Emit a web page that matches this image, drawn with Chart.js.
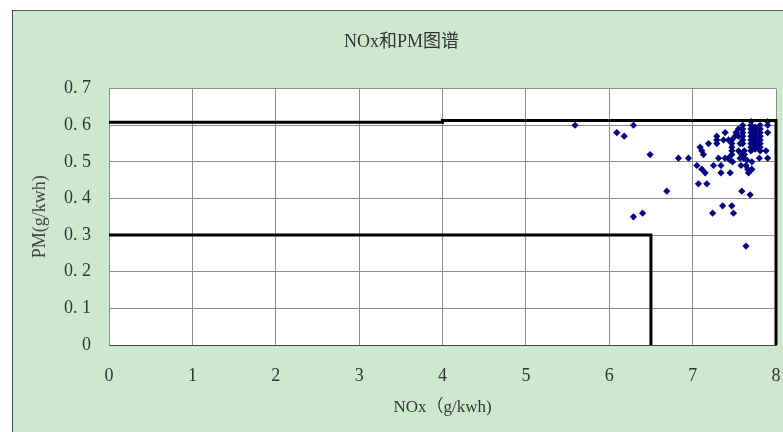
<!DOCTYPE html>
<html lang="zh">
<head>
    <meta charset="UTF-8">
    <title>NOx和PM图谱</title>
    <script src="https://cdn.jsdelivr.net/npm/chart.js"></script>
    <style>
        body {
            margin: 0;
            background: #fff;
            width: 783px;
            height: 432px;
            overflow: hidden;
            position: relative;
        }

        /* green chart sheet, its right/bottom edge falls outside the window */
        .sheet {
            position: absolute;
            left: 12px;
            top: 10px;
            width: 770px;
            height: 421px;
            border-left: 1px solid #555;
            border-top: 1px solid #555;
            background: #cde8cf;
        }

        canvas {
            display: block;
        }
    </style>
</head>
<body>
    <div class="sheet">
        <canvas id="mapChart" width="770" height="421"></canvas>
    </div>

    <script>
        // measured points
        const noxValues = [
            5.59, 6.09, 6.18, 6.29, 6.49, 6.83, 6.95, 6.69, 6.29, 6.40,
            7.24, 7.36, 7.47, 7.49, 7.64, 7.59, 7.69, 7.07, 7.17,
            7.05, 7.11, 7.15, 7.25, 7.34, 7.34, 7.45, 7.58, 7.66, 7.67, 7.69, 7.71, 7.64,
            7.31, 7.39, 7.43, 7.45, 7.48, 7.57, 7.61, 7.65, 7.71, 7.80, 7.90,
            7.09, 7.11, 7.13, 7.19, 7.29, 7.29, 7.29, 7.39, 7.37, 7.43, 7.47, 7.47,
            7.47, 7.47, 7.47, 7.51, 7.52, 7.55, 7.55, 7.57, 7.55, 7.59, 7.62, 7.62,
            7.60, 7.60, 7.60, 7.60, 7.60, 7.60,
            7.70, 7.70, 7.70, 7.70, 7.70, 7.70, 7.70, 7.70, 7.70,
            7.75, 7.75, 7.75, 7.75, 7.75, 7.75, 7.75,
            7.81, 7.81, 7.81, 7.81, 7.81, 7.81, 7.81, 7.81,
            7.90, 7.90, 7.90, 7.88
        ];
        const pmValues = [
            0.60, 0.58, 0.57, 0.60, 0.52, 0.51, 0.51, 0.42, 0.35, 0.36,
            0.36, 0.38, 0.38, 0.36, 0.27, 0.42, 0.41, 0.44, 0.44,
            0.49, 0.48, 0.47, 0.49, 0.49, 0.47, 0.47, 0.49, 0.48, 0.47, 0.475, 0.48, 0.49,
            0.51, 0.51, 0.51, 0.505, 0.50, 0.51, 0.51, 0.505, 0.50, 0.51, 0.51,
            0.54, 0.53, 0.52, 0.55, 0.57, 0.56, 0.55, 0.58, 0.56, 0.56, 0.56, 0.55,
            0.54, 0.53, 0.52, 0.57, 0.58, 0.59, 0.57, 0.55, 0.53, 0.52, 0.53, 0.52,
            0.60, 0.59, 0.58, 0.57, 0.56, 0.55,
            0.61, 0.60, 0.59, 0.58, 0.57, 0.56, 0.55, 0.54, 0.53,
            0.595, 0.585, 0.575, 0.565, 0.555, 0.545, 0.535,
            0.60, 0.59, 0.58, 0.57, 0.56, 0.55, 0.54, 0.53,
            0.61, 0.60, 0.58, 0.53
        ];

        // limit lines
        const outerLimitNox = [0, 4, 4, 8, 8];
        const outerLimitPm = [0.608, 0.608, 0.613, 0.613, 0];
        const innerLimitNox = [0, 6.5, 6.5];
        const innerLimitPm = [0.30, 0.30, 0];

        // axis ticks
        const xTickValues = [0, 1, 2, 3, 4, 5, 6, 7, 8];
        const xTickLabels = ['0', '1', '2', '3', '4', '5', '6', '7', '8'];
        const yTickValues = [0, 0.1, 0.2, 0.3, 0.4, 0.5, 0.6, 0.7];
        const yTickLabels = ['0', '0. 1', '0. 2', '0. 3', '0. 4', '0. 5', '0. 6', '0. 7'];

        const toPoints = (xs, ys) => xs.map((x, i) => ({ x: x, y: ys[i] }));

        const fontFamily = '"Liberation Serif", "DejaVu Serif", "Noto Sans CJK SC", serif';

        // white plot area
        const plotBackground = {
            id: 'plotBackground',
            beforeDraw(chart) {
                const { ctx, chartArea } = chart;
                ctx.save();
                ctx.fillStyle = '#fff';
                ctx.fillRect(chartArea.left, chartArea.top, chartArea.width, chartArea.height);
                ctx.restore();
            }
        };

        const ctx = document.getElementById('mapChart').getContext('2d');

        new Chart(ctx, {
            type: 'scatter',
            data: {
                datasets: [
                    {
                        label: 'limit 1',
                        data: toPoints(outerLimitNox, outerLimitPm),
                        showLine: true,
                        borderColor: '#000',
                        borderWidth: 3,
                        pointRadius: 0,
                        clip: 6
                    },
                    {
                        label: 'limit 2',
                        data: toPoints(innerLimitNox, innerLimitPm),
                        showLine: true,
                        borderColor: '#000',
                        borderWidth: 3,
                        pointRadius: 0,
                        clip: 6
                    },
                    {
                        label: 'NOx-PM',
                        data: toPoints(noxValues, pmValues),
                        pointStyle: 'rectRot',
                        pointRadius: 3.6,
                        backgroundColor: '#000080',
                        borderColor: '#000080',
                        borderWidth: 0,
                        clip: 6
                    }
                ]
            },
            options: {
                responsive: false,
                animation: false,
                layout: { padding: { left: 14, right: 7, top: 0, bottom: 0 } },
                plugins: {
                    legend: { display: false },
                    tooltip: { enabled: false },
                    title: {
                        display: true,
                        text: 'NOx和PM图谱',
                        color: '#333',
                        font: { family: fontFamily, size: 18, weight: 'normal' },
                        padding: { top: 20, bottom: 36 }
                    }
                },
                scales: {
                    x: {
                        type: 'linear',
                        min: 0,
                        max: 8,
                        afterBuildTicks: (scale) => {
                            scale.ticks = xTickValues.map(v => ({ value: v }));
                        },
                        afterFit: (scale) => {
                            scale.height = 87;
                            scale.paddingLeft = 0;
                            scale.paddingRight = 0;
                        },
                        ticks: {
                            color: '#333',
                            padding: 20,
                            maxRotation: 0,
                            font: { family: fontFamily, size: 18 },
                            callback: (v, i) => xTickLabels[i]
                        },
                        grid: { color: '#8c8c8c', drawTicks: false },
                        border: { color: '#444', width: 1 },
                        title: {
                            display: true,
                            text: 'NOx（g/kwh)',
                            color: '#333',
                            font: { family: fontFamily, size: 17 },
                            padding: { top: 0, bottom: 14 }
                        }
                    },
                    y: {
                        type: 'linear',
                        min: 0,
                        max: 0.7,
                        afterBuildTicks: (scale) => {
                            scale.ticks = yTickValues.map(v => ({ value: v }));
                        },
                        afterFit: (scale) => {
                            scale.width = 82;
                            scale.paddingTop = 0;
                            scale.paddingBottom = 0;
                        },
                        ticks: {
                            color: '#333',
                            padding: 18,
                            font: { family: fontFamily, size: 18 },
                            callback: (v, i) => yTickLabels[i]
                        },
                        grid: { color: '#8c8c8c', drawTicks: false },
                        border: { color: '#8c8c8c', width: 1 },
                        title: {
                            display: true,
                            text: 'PM(g/kwh)',
                            color: '#444',
                            font: { family: fontFamily, size: 18 },
                            padding: { top: 2, bottom: 0 }
                        }
                    }
                }
            },
            plugins: [plotBackground]
        });
    </script>
</body>
</html>
